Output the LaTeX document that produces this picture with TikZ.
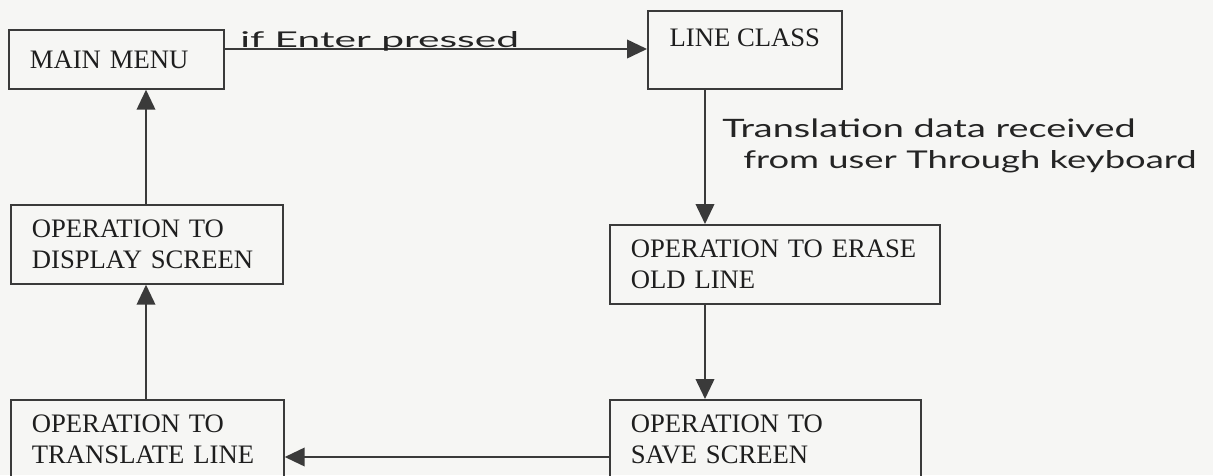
\documentclass[tikz,border=0pt]{standalone}
\usepackage{fontspec}
\usepackage{graphicx}
\setmainfont{Liberation Serif}
\IfFontExistsTF{FiraSans-Light.otf}
  {\newfontfamily\handfont{FiraSans-Light.otf}}
  {\newfontfamily\handfont{Lato}}
\usetikzlibrary{arrows.meta}

\definecolor{paper}{RGB}{246,246,244}
\definecolor{ink}{RGB}{58,58,58}
\definecolor{print}{RGB}{30,30,30}
\definecolor{pen}{RGB}{36,36,36}

\tikzset{
  box/.style={draw=ink, line width=1.3pt, anchor=north west, align=left,
    inner xsep=15.75pt, inner ysep=0pt, text=print,
    font=\fontsize{20}{23}\selectfont},
  arr/.style={draw=ink, line width=1.3pt,
    -{Triangle[length=15pt,width=14pt]}},
  hand/.style={inner sep=0pt, anchor=base west, text=pen, font=\handfont\fontsize{12}{14}\selectfont}
}

\begin{document}
\begin{tikzpicture}[x=0.75pt, y=-0.75pt]
  % page
  \useasboundingbox (0,0) rectangle (1213,475);
  \fill[paper] (0,0) rectangle (1213,475);

  % boxes
  \node[box, text width=129.75pt, minimum height=44.25pt] (main) at (8,29) {MAIN MENU};
  \node[box, inner xsep=0pt, minimum width=145.5pt, minimum height=58.5pt, text height=14pt, text depth=18.5pt] (line) at (647,10) {LINE CLASS};
  \node[box, text width=216pt, minimum height=59.25pt] (erase) at (609,224) {OPERATION TO ERASE\\OLD LINE};
  \node[box, text width=201.75pt, minimum height=59.25pt] (save) at (609,399) {OPERATION TO\\SAVE SCREEN};
  \node[box, text width=173.25pt, minimum height=59.25pt] (translate) at (10,399) {OPERATION TO\\TRANSLATE LINE};
  \node[box, text width=172.5pt, minimum height=59.25pt] (display) at (10,204) {OPERATION TO\\DISPLAY SCREEN};

  % reference lines for the connectors
  \coordinate (xa) at (705,0);
  \coordinate (xb) at (146,0);
  \coordinate (ya) at (0,457);
  \coordinate (yb) at (0,49);

  % connectors
  \draw[arr] (main.east |- yb) -- (line.west |- yb);
  \draw[arr] (line.south -| xa) -- (erase.north -| xa);
  \draw[arr] (erase.south -| xa) -- (save.north -| xa);
  \draw[arr] (save.west |- ya) -- (translate.east |- ya);
  \draw[arr] (translate.north -| xb) -- (display.south -| xb);
  \draw[arr] (display.north -| xb) -- (main.south -| xb);

  % handwritten notes
  \node[hand] (cond) at (240,47) {\resizebox{209pt}{12pt}{if Enter pressed}};
  \node[hand] (note1) at (722,137) {\resizebox{310pt}{14pt}{Translation data received}};
  \node[hand] (note2) at (743,168) {\resizebox{340pt}{13.5pt}{from user Through keyboard}};
\end{tikzpicture}
\end{document}
